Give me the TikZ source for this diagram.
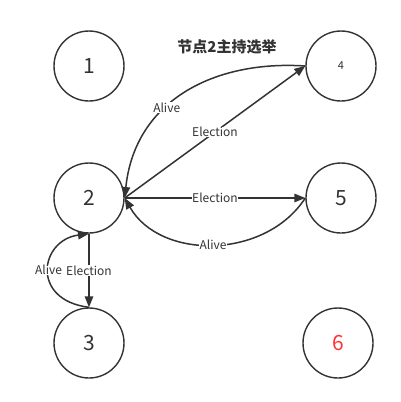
\documentclass[tikz,border=0pt]{standalone}
\usepackage{fontspec}
\setmainfont{Noto Sans CJK SC}
\usetikzlibrary{arrows.meta}
\definecolor{ink}{HTML}{333333}
\definecolor{redtxt}{HTML}{FF3333}
\tikzset{
  state/.style={circle, draw=ink, line width=1.4pt, minimum size=70pt, inner sep=0pt, text=ink, font=\fontsize{21pt}{23pt}\selectfont},
  conn/.style={draw=ink, line width=1.5pt, -{Triangle[length=11pt,width=8.5pt]}},
  lbl/.style={fill=white, inner sep=0.5pt, text=ink, font=\fontsize{12pt}{13pt}\selectfont},
}
\begin{document}
\begin{tikzpicture}[x=1pt,y=-1pt]
\useasboundingbox (0,0) rectangle (401,402);
\node[state] (n1) at (89,66) {1};
\node[state] (n4) at (341,66) {\fontsize{11pt}{12pt}\selectfont 4};
\node[state] (n2) at (89,198) {2};
\node[state] (n5) at (341,198) {5};
\node[state] (n3) at (89,343) {3};
\node[state, text=redtxt] (n6) at (338,343) {6};
\node[text=ink, font=\fontsize{15pt}{17pt}\selectfont\bfseries] (title) at (227,47) {节点2主持选举};
\draw[conn] (n2.east) -- node[lbl] {Election} (n4.west);
\draw[conn] (n4.west) .. controls (215,60) and (135,100) .. node[lbl, pos=0.6] {Alive} (n2.east);
\draw[conn] (n2.east) -- node[lbl] {Election} (n5.west);
\draw[conn] (n5.west) .. controls (265,260) and (160,260) .. node[lbl] {Alive} (n2.east);
\draw[conn] (n2.south) -- node[lbl] {Election} (n3.north);
\draw[conn] (n3.north) .. controls (30,300) and (40,240) .. node[lbl] {Alive} (n2.south);
\end{tikzpicture}
\end{document}
